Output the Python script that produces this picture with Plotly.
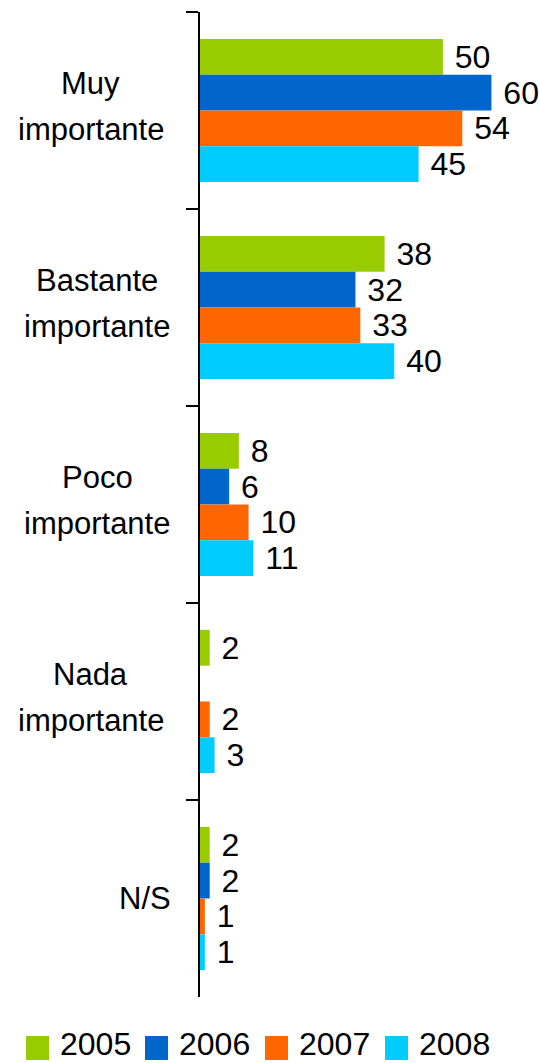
import plotly.graph_objects as go

categories = ["Muy importante", "Bastante importante", "Poco importante", "Nada importante", "N/S"]
cat_lines = [["Muy", "importante"], ["Bastante", "importante"], ["Poco", "importante"],
             ["Nada", "importante"], ["N/S"]]
series_names = ["2005", "2006", "2007", "2008"]
v2005 = [50, 38, 8, 2, 2]
v2006 = [60, 32, 6, None, 2]
v2007 = [54, 33, 10, 2, 1]
v2008 = [45, 40, 11, 3, 1]
series_values = [v2005, v2006, v2007, v2008]
colors = ["#99CC00", "#0066CC", "#FF6600", "#00CCFF"]

FONT = "Liberation Sans Narrow, Arial Narrow, Liberation Sans, Arial, sans-serif"
W, H = 540, 1063
ML, MR, MT, MB = 200, 0, 12, 66
PW, PH = W - ML - MR, H - MT - MB

def px_x(p):
    return (p - ML) / PW

def px_y(p):
    return (H - MB - p) / PH

fig = go.Figure()
for name, vals, col in zip(series_names, series_values, colors):
    fig.add_trace(go.Bar(
        y=categories, x=vals, orientation="h", name=name,
        marker=dict(color=col, line=dict(width=0)),
        text=[("\u00a0" + str(v)) if v is not None else "" for v in vals],
        textposition="outside", constraintext="none", cliponaxis=False,
        textfont=dict(family=FONT, size=32, color="black"),
        showlegend=False,
    ))

annotations = []
label_centers = [91, 97, 97, 91, 145]
for cat, lines, cx in zip(categories, cat_lines, label_centers):
    shifts = [27, -19] if len(lines) == 2 else [0]
    for line, ys in zip(lines, shifts):
        annotations.append(dict(
            x=px_x(cx), xref="paper", y=cat, yref="y", text=line, showarrow=False,
            xanchor="center", yanchor="middle", align="center", yshift=ys,
            font=dict(family=FONT, size=31, color="black"),
        ))

shapes = []
sq_left = [26, 145, 265, 385]
for name, col, sx in zip(series_names, colors, sq_left):
    shapes.append(dict(
        type="rect", xref="paper", yref="paper",
        x0=px_x(sx), x1=px_x(sx + 23), y0=px_y(1060), y1=px_y(1036),
        fillcolor=col, line=dict(width=0),
    ))
    annotations.append(dict(
        x=px_x(sx + 32), xref="paper", y=px_y(1044), yref="paper", text=name,
        showarrow=False, xanchor="left", yanchor="middle",
        font=dict(family=FONT, size=32, color="black"),
    ))

fig.update_layout(
    width=W, height=H,
    margin=dict(l=ML, r=MR, t=MT, b=MB, pad=0),
    paper_bgcolor="white", plot_bgcolor="white",
    barmode="group", bargap=0.273, bargroupgap=0,
    showlegend=False,
    annotations=annotations, shapes=shapes,
    xaxis=dict(range=[0, 70], visible=False, fixedrange=True),
    yaxis=dict(
        autorange="reversed", showline=True, linecolor="black", linewidth=2,
        ticks="outside", ticklen=12, tickwidth=2, tickcolor="black",
        tickson="boundaries", showticklabels=False, showgrid=False, zeroline=False,
    ),
)

fig.write_html("out.html", config={"displayModeBar": False},
               post_script="document.body.style.margin='0';")
